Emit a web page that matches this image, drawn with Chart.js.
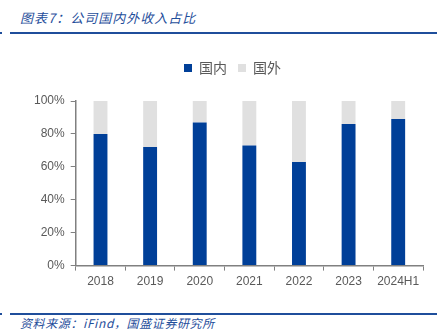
<!DOCTYPE html>
<html lang="zh">
<head>
<meta charset="UTF-8">
<title>图表7</title>
<script src="https://cdn.jsdelivr.net/npm/chart.js@4.4.0/dist/chart.umd.min.js"></script>
<style>
    body { margin: 0; background: #fff; }
    #wrap { position: relative; width: 437px; height: 331px; }
    .title { position: absolute; left: 20px; top: 8px; font: italic 13px "Noto Sans CJK SC", sans-serif; color: #1f4e9b; letter-spacing: 1px; }
    .line { position: absolute; left: 10px; right: 0; height: 2px; background: #1f4e9b; }
    .dot { position: absolute; left: 0; width: 2px; height: 2px; background: #1f4e9b; }
    .source { position: absolute; left: 20px; top: 314px; font: italic 12px "Noto Sans CJK SC", sans-serif; color: #1f4e9b; letter-spacing: 0.6px; }
    #box { position: absolute; left: 0; top: 50px; width: 437px; height: 243px; }
</style>
</head>
<body>
<div id="wrap">
    <div class="title">图表7：公司国内外收入占比</div>
    <div class="dot" style="top:32px"></div>
    <div class="line" style="top:32px"></div>
    <div id="box"><canvas id="myChart"></canvas></div>
    <div class="dot" style="top:313px"></div>
    <div class="line" style="top:313px"></div>
    <div class="source">资料来源：iFind，国盛证券研究所</div>
</div>
<script>
    const years = ['2018', '2019', '2020', '2021', '2022', '2023', '2024H1'];
    const domestic = [80, 72, 87, 73, 63, 86, 89];
    const overseas = [20, 28, 13, 27, 37, 14, 11];

    // more room under the legend, and nudge it a little to the right
    const legendTweak = {
        id: 'legendTweak',
        beforeInit(chart) {
            const fit = chart.legend.fit;
            chart.legend.fit = function() {
                fit.bind(chart.legend)();
                this.height += 16;
            };
        },
        afterLayout(chart) {
            chart.legend.left += 7;
            chart.legend.right += 7;
        }
    };

    const ctx = document.getElementById('myChart').getContext('2d');
    const myChart = new Chart(ctx, {
        type: 'bar',
        data: {
            labels: years,
            datasets: [{
                label: '国内',
                data: domestic,
                backgroundColor: '#003f98',
                barPercentage: 0.56,
                categoryPercentage: 0.5
            }, {
                label: '国外',
                data: overseas,
                backgroundColor: '#e0e0e0',
                barPercentage: 0.56,
                categoryPercentage: 0.5
            }]
        },
        options: {
            responsive: true,
            maintainAspectRatio: false,
            animation: false,
            layout: { padding: { left: 28, right: 14, top: 0, bottom: 0 } },
            plugins: {
                tooltip: { enabled: false },
                legend: {
                    position: 'top',
                    labels: {
                        boxWidth: 8, boxHeight: 8,
                        color: '#595959',
                        padding: 11,
                        font: { family: '"Noto Sans CJK SC", sans-serif', size: 14 }
                    }
                }
            },
            scales: {
                x: {
                    stacked: true,
                    grid: { drawOnChartArea: false, offset: true, tickLength: 5, color: '#808080' },
                    border: { color: '#808080', width: 1.5 },
                    ticks: { color: '#595959', padding: 4, font: { family: '"Liberation Sans", Arial', size: 12 } }
                },
                y: {
                    stacked: true,
                    min: 0, max: 100,
                    grid: { drawOnChartArea: false, tickLength: 5, color: '#808080' },
                    border: { color: '#808080', width: 1.5 },
                    ticks: {
                        stepSize: 20,
                        color: '#595959',
                        padding: 6,
                        font: { family: '"Liberation Sans", Arial', size: 12 },
                        callback: function(value) { return value + '%'; }
                    }
                }
            }
        },
        plugins: [legendTweak]
    });
</script>
</body>
</html>
